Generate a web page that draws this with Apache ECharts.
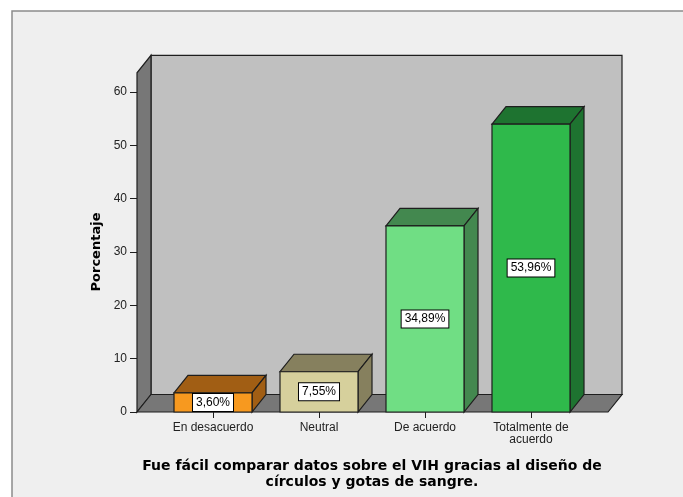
<!DOCTYPE html>
<html lang="es">
<head>
<meta charset="UTF-8">
<title>Porcentaje</title>
<script src="https://cdn.jsdelivr.net/npm/echarts@6/dist/echarts.min.js"></script>
<style>html,body{margin:0;padding:0;background:#fff}</style>
</head>
<body>

<div id="chart" style="width:683px;height:497px"></div>

<script>
    // datos
    var categorias = ['En desacuerdo', 'Neutral', 'De acuerdo', 'Totalmente de\nacuerdo'];
    var porcentajes = [3.60, 7.55, 34.89, 53.96];
    var etiquetas = ['3,60%', '7,55%', '34,89%', '53,96%'];
    var ticksY = [0, 10, 20, 30, 40, 50, 60];
    var techoPared = 63.6;

    var coloresFrente = ['#f7991f', '#d6d09c', '#70de84', '#2fb94b'];
    var coloresLado = ['#a15e14', '#86805e', '#43884f', '#1e7330'];

    var fuente = '"Liberation Sans", Arial, sans-serif';
    var fuenteTitulo = '"DejaVu Sans", Verdana, sans-serif';
    var dx = 14, dy = -17.5;   // profundidad 3D
    var borde = '#1e1e1e';

    var myChart = echarts.init(document.getElementById('chart'));

    var option = {
        backgroundColor: '#fff',
        animation: false,
        textStyle: { fontFamily: fuente },
        grid: { left: 160, right: 99, top: 92, bottom: 85 },
        graphic: [
            {
                type: 'rect', z: -10,
                shape: { x: 12, y: 11, width: 700, height: 500 },
                style: { fill: '#efefef', stroke: '#8c8c8c', lineWidth: 1.5 }
            },
            {
                type: 'text', z: 10,
                style: {
                    text: 'Fue fácil comparar datos sobre el VIH gracias al diseño de\ncírculos y gotas de sangre.',
                    x: 372, y: 458, align: 'center', verticalAlign: 'top',
                    font: 'bold 14px ' + fuenteTitulo, lineHeight: 16, fill: '#000'
                }
            }
        ],
        xAxis: {
            type: 'category',
            data: categorias,
            axisLine: { show: false },
            axisTick: { show: true, alignWithLabel: true, length: 6, lineStyle: { color: borde } },
            axisLabel: { fontSize: 12, color: '#222', margin: 10, lineHeight: 12, interval: 0 }
        },
        yAxis: {
            type: 'value',
            min: ticksY[0],
            max: ticksY[ticksY.length - 1],
            interval: 10,
            offset: 23,
            name: 'Porcentaje',
            nameLocation: 'middle',
            nameGap: 33,
            nameTextStyle: { fontSize: 13, fontWeight: 'bold', color: '#000', fontFamily: fuenteTitulo },
            axisLine: { show: false },
            axisTick: { show: true, length: 7, lineStyle: { color: borde } },
            axisLabel: { fontSize: 12, color: '#222', margin: 10 },
            splitLine: { show: false }
        },
        series: [
            {
                // paredes y piso
                type: 'custom',
                z: 1,
                data: [[0, techoPared]],
                renderItem: function (params, api) {
                    var cs = params.coordSys;
                    var x0 = cs.x - 23, x1 = cs.x + cs.width + 24;
                    var y0 = api.coord([0, 0])[1];
                    var yT = api.coord([0, api.value(1)])[1];
                    var st = { stroke: borde, lineWidth: 1.2 };
                    return {
                        type: 'group',
                        children: [
                            { type: 'rect', shape: { x: x0 + dx, y: yT + dy, width: x1 - x0, height: y0 - yT },
                              style: Object.assign({ fill: '#c0c0c0' }, st) },
                            { type: 'polygon', shape: { points: [[x0, y0], [x0, yT], [x0 + dx, yT + dy], [x0 + dx, y0 + dy]] },
                              style: Object.assign({ fill: '#777777' }, st) },
                            { type: 'polygon', shape: { points: [[x0, y0], [x1, y0], [x1 + dx, y0 + dy], [x0 + dx, y0 + dy]] },
                              style: Object.assign({ fill: '#777777' }, st) }
                        ]
                    };
                }
            },
            {
                type: 'custom',
                z: 2,
                data: porcentajes.map(function (v, i) { return [i, v]; }),
                encode: { x: 0, y: 1 },
                renderItem: function (params, api) {
                    var i = params.dataIndex;
                    var base = api.coord([api.value(0), 0]);
                    var tope = api.coord([api.value(0), api.value(1)]);
                    var w = api.size([1, 0])[0] * 0.736;
                    var l = base[0] - w / 2, r = base[0] + w / 2;
                    var y0 = base[1], y1 = tope[1];
                    var st = { stroke: borde, lineWidth: 1.2 };
                    return {
                        type: 'group',
                        children: [
                            { type: 'polygon', shape: { points: [[l, y1], [r, y1], [r + dx, y1 + dy], [l + dx, y1 + dy]] },
                              style: Object.assign({ fill: coloresLado[i] }, st) },
                            { type: 'polygon', shape: { points: [[r, y1], [r, y0], [r + dx, y0 + dy], [r + dx, y1 + dy]] },
                              style: Object.assign({ fill: coloresLado[i] }, st) },
                            { type: 'rect', shape: { x: l, y: y1, width: w, height: y0 - y1 },
                              style: Object.assign({ fill: coloresFrente[i] }, st) },
                            { type: 'text',
                              style: {
                                  text: etiquetas[i], x: base[0], y: (y0 + y1) / 2,
                                  align: 'center', verticalAlign: 'middle',
                                  font: '12px ' + fuente, fill: '#000',
                                  backgroundColor: '#fff', borderColor: '#000', borderWidth: 1,
                                  padding: [3, 3, 2, 3]
                              } }
                        ]
                    };
                }
            }
        ]
    };

    myChart.setOption(option);
</script>

</body>
</html>
